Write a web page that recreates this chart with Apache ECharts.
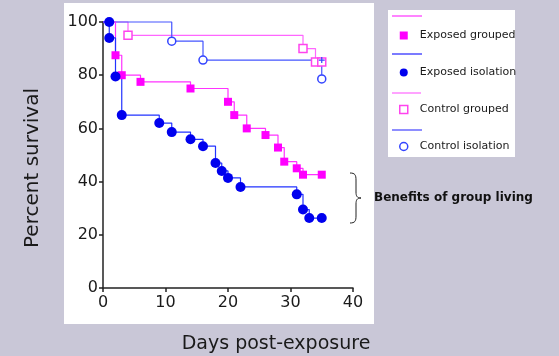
<!DOCTYPE html>
<html>
<head>
<meta charset="utf-8">
<script src="https://cdn.jsdelivr.net/npm/echarts@6/dist/echarts.min.js"></script>
<style>
  html, body { margin: 0; padding: 0; background: #c9c7d7; }
  #chart { width: 559px; height: 356px; }
</style>
</head>
<body>
<div id="chart"></div>
<script>
// Kaplan-Meier style survival data (day, percent survival)
const expGroupedDays = [0, 2, 3, 6, 14, 20, 21, 23, 26, 28, 29, 31, 32, 35];
const expGroupedSurv = [100, 87.5, 80, 77.5, 75, 70, 65, 60, 57.5, 52.8, 47.5, 45, 42.6, 42.6];

const expIsoDays = [0, 1, 1, 2, 3, 9, 11, 14, 16, 18, 19, 20, 22, 31, 32, 33, 35];
const expIsoSurv = [100, 100, 94, 79.5, 65, 62, 58.6, 55.9, 53.3, 47, 44, 41.4, 38, 35.2, 29.5, 26.3, 26.3];

const ctrlGroupedDays = [0, 4, 32, 34, 35];
const ctrlGroupedSurv = [100, 95, 90, 85, 85];

const ctrlIsoDays = [0, 11, 16, 35];
const ctrlIsoSurv = [100, 92.8, 85.7, 78.6];
const ctrlIsoCensor = [[35, 85.7]];

const xTicks = [0, 10, 20, 30, 40];
const yTicks = [0, 20, 40, 60, 80, 100];

const legendNames = ["Exposed grouped", "Exposed isolation", "Control grouped", "Control isolation"];

function pairs(days, surv) {
  return days.map(function (d, i) { return [d, surv[i]]; });
}

const chart = echarts.init(document.getElementById("chart"), null, { renderer: "canvas" });

const font = "DejaVu Sans";

function stepLine(name, days, surv, color) {
  return {
    name: name + " line",
    type: "line",
    step: "end",
    data: pairs(days, surv),
    showSymbol: false,
    clip: false,
    silent: true,
    lineStyle: { color: color, width: 1.2 },
    z: 2
  };
}

function markers(name, days, surv, symbol, size, style) {
  style.opacity = 1;
  return {
    name: name,
    type: "scatter",
    data: pairs(days, surv).slice(1),
    symbol: symbol,
    symbolSize: size,
    itemStyle: style,
    z: 3
  };
}

// curly brace next to the plot, drawn as curve pieces
function brace(x, top, bottom) {
  const mid = (top + bottom) / 2;
  const s = { stroke: "#222", fill: null, lineWidth: 1 };
  return [
    { type: "bezierCurve", silent: true, style: s, shape: { x1: x, y1: top, x2: x + 6, y2: top + 7, cpx1: x + 5, cpy1: top, cpx2: x + 6, cpy2: top + 2 } },
    { type: "line", silent: true, style: s, shape: { x1: x + 6, y1: top + 7, x2: x + 6, y2: mid - 6 } },
    { type: "bezierCurve", silent: true, style: s, shape: { x1: x + 6, y1: mid - 6, x2: x + 11, y2: mid, cpx1: x + 6, cpy1: mid - 2, cpx2: x + 7, cpy2: mid } },
    { type: "bezierCurve", silent: true, style: s, shape: { x1: x + 11, y1: mid, x2: x + 6, y2: mid + 6, cpx1: x + 7, cpy1: mid, cpx2: x + 6, cpy2: mid + 2 } },
    { type: "line", silent: true, style: s, shape: { x1: x + 6, y1: mid + 6, x2: x + 6, y2: bottom - 7 } },
    { type: "bezierCurve", silent: true, style: s, shape: { x1: x + 6, y1: bottom - 7, x2: x, y2: bottom, cpx1: x + 6, cpy1: bottom - 2, cpx2: x + 5, cpy2: bottom } }
  ];
}

const option = {
  backgroundColor: "#c9c7d7",
  animation: false,
  grid: { left: 103, right: 206, top: 22, bottom: 68 },
  xAxis: {
    type: "value",
    min: xTicks[0],
    max: xTicks[xTicks.length - 1],
    interval: 10,
    splitLine: { show: false },
    axisLine: { lineStyle: { color: "#222", width: 1.5 } },
    axisTick: { length: 4, lineStyle: { color: "#222", width: 1.5 } },
    axisLabel: { color: "#1a1a1a", fontFamily: font, fontSize: 16, margin: 7 }
  },
  yAxis: {
    type: "value",
    min: yTicks[0],
    max: yTicks[yTicks.length - 1],
    interval: 20,
    splitLine: { show: false },
    axisLine: { show: true, lineStyle: { color: "#222", width: 1.5 } },
    axisTick: { show: true, length: 4, lineStyle: { color: "#222", width: 1.5 } },
    axisLabel: { color: "#1a1a1a", fontFamily: font, fontSize: 16, margin: 5 }
  },
  legend: {
    orient: "vertical",
    left: 394,
    top: 24,
    itemGap: 24,
    itemWidth: 8,
    itemHeight: 8,
    selectedMode: false,
    textStyle: { fontFamily: font, fontSize: 11, color: "#1a1a1a", lineHeight: 13, padding: [0, 0, 0, 7] },
    data: [
      { name: legendNames[0], icon: "rect", itemStyle: { color: "#ff00ff" } },
      { name: legendNames[1], icon: "circle", itemStyle: { color: "#0000ee" } },
      { name: legendNames[2], icon: "rect", itemStyle: { color: "#ffffff", borderColor: "#ff44ee", borderWidth: 1.5 } },
      { name: legendNames[3], icon: "circle", itemStyle: { color: "#ffffff", borderColor: "#3344ff", borderWidth: 1.5 } }
    ]
  },
  graphic: [
    { type: "rect", z: -100, silent: true, shape: { x: 64, y: 3, width: 310, height: 321 }, style: { fill: "#ffffff" } },
    { type: "rect", z: -100, silent: true, shape: { x: 388, y: 10, width: 127, height: 147 }, style: { fill: "#ffffff" } },
    { type: "line", silent: true, shape: { x1: 392, y1: 16, x2: 422, y2: 16 }, style: { stroke: "#ff33ff", lineWidth: 1.2 } },
    { type: "line", silent: true, shape: { x1: 392, y1: 54, x2: 422, y2: 54 }, style: { stroke: "#2222ff", lineWidth: 1.2 } },
    { type: "line", silent: true, shape: { x1: 392, y1: 93, x2: 421, y2: 93 }, style: { stroke: "#ff66ff", lineWidth: 1.2 } },
    { type: "line", silent: true, shape: { x1: 392, y1: 130, x2: 422, y2: 130 }, style: { stroke: "#4444ff", lineWidth: 1.2 } },
    {
      type: "text", silent: true, x: 33, y: 168, rotation: Math.PI / 2,
      style: { text: "Percent survival", font: "20px DejaVu Sans", fill: "#1a1a1a", textAlign: "center", textVerticalAlign: "middle" }
    },
    {
      type: "text", silent: true, x: 276, y: 344,
      style: { text: "Days post-exposure", font: "19px DejaVu Sans", fill: "#1a1a1a", textAlign: "center", textVerticalAlign: "middle" }
    },
    {
      type: "text", silent: true, x: 374, y: 198,
      style: { text: "Benefits of group living", font: "bold 12px DejaVu Sans", fill: "#111", textAlign: "left", textVerticalAlign: "middle" }
    }
  ].concat(brace(350, 173, 223)),
  series: [
    stepLine(legendNames[2], ctrlGroupedDays, ctrlGroupedSurv, "#ff66ff"),
    stepLine(legendNames[3], ctrlIsoDays, ctrlIsoSurv, "#4455ff"),
    stepLine(legendNames[0], expGroupedDays, expGroupedSurv, "#ff33ff"),
    stepLine(legendNames[1], expIsoDays, expIsoSurv, "#2233ff"),
    markers(legendNames[2], ctrlGroupedDays, ctrlGroupedSurv, "rect", 8,
      { color: "#ffffff", borderColor: "#ff44ee", borderWidth: 1.5 }),
    markers(legendNames[3], ctrlIsoDays, ctrlIsoSurv, "circle", 8,
      { color: "#ffffff", borderColor: "#3344ff", borderWidth: 1.5 }),
    markers(legendNames[0], expGroupedDays, expGroupedSurv, "rect", 8,
      { color: "#ff00ff" }),
    markers(legendNames[1], expIsoDays, expIsoSurv, "circle", 10,
      { color: "#0000ee" }),
    {
      name: "censored",
      type: "scatter",
      data: ctrlIsoCensor,
      symbol: "path://M4,0h2v4h4v2h-4v4h-2v-4h-4v-2h4z",
      symbolSize: 6,
      itemStyle: { color: "#3344ff", opacity: 1 },
      z: 4
    }
  ]
};

chart.setOption(option);
</script>
</body>
</html>
